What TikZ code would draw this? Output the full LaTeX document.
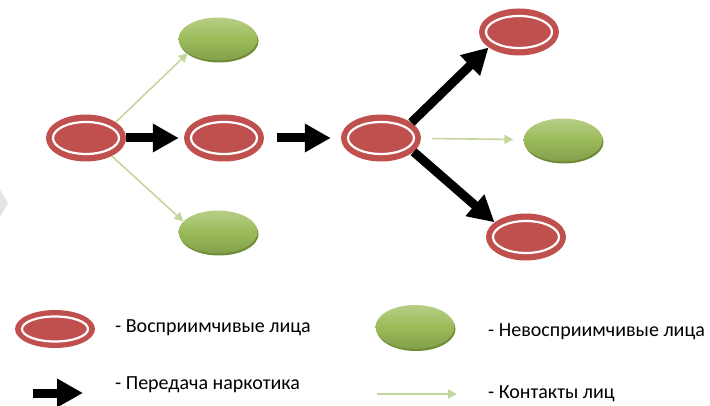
\documentclass[tikz,border=0pt]{standalone}
\usepackage{fontspec}
\setmainfont{Carlito}
\usetikzlibrary{shapes.geometric,arrows.meta,shadows}
\definecolor{sickred}{HTML}{C0504D}
\definecolor{healthy}{HTML}{9BBB59}
\definecolor{healthytop}{HTML}{B7CE86}
\definecolor{healthyrim}{HTML}{6E8B35}
\definecolor{contact}{HTML}{C3D69B}
\begin{document}
\begin{tikzpicture}[x=1pt,y=-1pt,
    sick/.style={ellipse,fill=sickred,minimum width=80pt,minimum height=47pt,inner sep=0pt,
      path picture={\draw[white,line width=2.2pt] (path picture bounding box.center) ellipse (33pt and 16pt);}},
    immune/.style={ellipse,minimum width=79pt,minimum height=43pt,inner sep=0pt,
      top color=healthytop,bottom color=healthy!85!black,middle color=healthy,
      drop shadow={shadow xshift=1pt,shadow yshift=-2pt,fill=healthyrim,opacity=1}},
    pass/.style={line width=9pt,-{Triangle[length=26pt,width=27pt]}},
    touch/.style={contact,line width=1.6pt,-{Triangle[length=9pt,width=9pt]}},
    legend/.style={anchor=base west,inner sep=0pt,font=\fontsize{20}{24}\selectfont}]
  \useasboundingbox (0,0) rectangle (710,406);
  \fill[gray!22] (0,190) -- (8,203) -- (0,217) -- cycle;
  % chain of passing
  \node[sick] (a) at (86,138) {};
  \node[sick] (b) at (224,138) {};
  \node[sick] (c) at (381,138) {};
  \node[sick] (d) at (519,32) {};
  \node[sick] (e) at (526,237) {};
  \node[immune] (g1) at (218,39) {};
  \node[immune] (g2) at (218,232) {};
  \node[immune] (g3) at (563,140) {};
  \draw[pass,shorten >=5pt] (a) -- (b);
  \draw[pass,shorten <=13pt,shorten >=10pt] (b) -- (c);
  \draw[pass] (c.27) -- (d.207);
  \draw[pass] (c.-23) -- (e.155);
  \draw[touch] (a.28) -- (g1.205);
  \draw[touch] (a.-35) -- (g2.163);
  \draw[touch,shorten <=11pt,shorten >=10pt] (c) -- (g3);
  % legend
  \node[sick,minimum height=38pt,
    path picture={\draw[white,line width=2.2pt] (path picture bounding box.center) ellipse (33pt and 12.5pt);}]
    (ls) at (55,329) {};
  \node[immune,minimum height=44pt] (li) at (415,327) {};
  \coordinate (lp1) at (33,393);
  \coordinate (lp2) at (83,393);
  \coordinate (lt1) at (377,394);
  \coordinate (lt2) at (457,394);
  \draw[pass] (lp1) -- (lp2);
  \draw[touch] (lt1) -- (lt2);
  \node[legend] (ts) at (115,332) {- Восприимчивые лица};
  \node[legend] (tp) at (115,389) {- Передача наркотика};
  \node[legend] (ti) at (488,336) {- Невосприимчивые лица};
  \node[legend] (tc) at (488,398) {- Контакты лиц};
\end{tikzpicture}
\end{document}
